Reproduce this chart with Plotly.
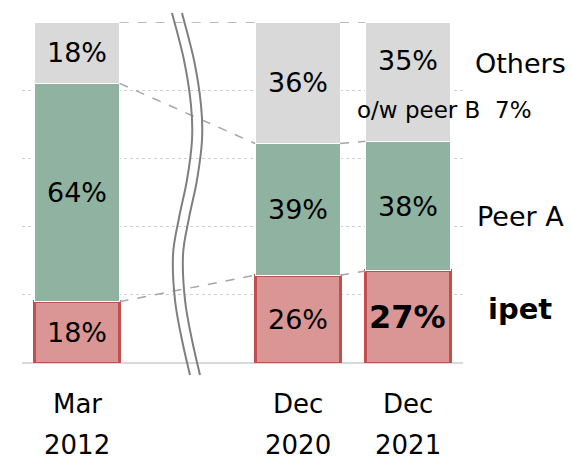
import plotly.graph_objects as go

# ---------------- data ----------------
period_line1 = ["Mar", "Dec", "Dec"]
period_line2 = ["2012", "2020", "2021"]
x_pos = [0, 2, 3]            # gap after first bar (axis break)
ipet = [18, 26, 27]
peer_a = [64, 39, 38]
others = [18, 36, 35]
peer_b_share = 7
series_names = ["ipet", "Peer A", "Others"]

# ---------------- style ----------------
FONT = "DejaVu Sans"
C_RED = "#DA9694"
C_RED_EDGE = "#C0504D"
C_GREEN = "#8FB3A0"
C_GRAY = "#D9D9D9"
C_CONN = "#A6A6A6"
C_BREAK = "#7F7F7F"
BAR_W = 0.77

W, H = 572, 460
ML, MR, MT, MB = 22, 109, 22, 97
PW, PH = W - ML - MR, H - MT - MB

fig = go.Figure()
fig.add_trace(go.Bar(x=x_pos, y=ipet, name=series_names[0], width=BAR_W,
                     marker=dict(color=C_RED, line=dict(color=C_RED_EDGE, width=3))))
fig.add_trace(go.Bar(x=x_pos, y=peer_a, name=series_names[1], width=BAR_W,
                     marker=dict(color=C_GREEN, line=dict(color="white", width=1))))
fig.add_trace(go.Bar(x=x_pos, y=others, name=series_names[2], width=BAR_W,
                     marker=dict(color=C_GRAY, line=dict(color="white", width=1))))

# normalized cumulative levels
totals = [a + b + c for a, b, c in zip(ipet, peer_a, others)]
lvl1 = [a / t * 100 for a, t in zip(ipet, totals)]
lvl2 = [(a + b) / t * 100 for a, b, t in zip(ipet, peer_a, totals)]
lvl3 = [100.0 for _ in totals]

# dashed connectors between neighbouring bars
for lv in (lvl1, lvl2, lvl3):
    for i in range(len(x_pos) - 1):
        fig.add_trace(go.Scatter(
            x=[x_pos[i] + BAR_W / 2, x_pos[i + 1] - BAR_W / 2],
            y=[lv[i], lv[i + 1]], mode="lines",
            line=dict(color=C_CONN, width=1.5, dash="dash"),
            hoverinfo="skip", showlegend=False))

# segment labels
for i, xp in enumerate(x_pos):
    mids = [lvl1[i] / 2, (lvl1[i] + lvl2[i]) / 2, (lvl2[i] + 100) / 2]
    vals = [ipet[i], peer_a[i], others[i]]
    for k, (m, v) in enumerate(zip(mids, vals)):
        bold = (k == 0 and i == len(x_pos) - 1)
        ysh = 21 if (k == 2 and i == len(x_pos) - 1) else 0
        fig.add_annotation(x=xp, y=m, text=(f"<b>{v}%</b>" if bold else f"{v}%"),
                           showarrow=False, yshift=ysh,
                           font=dict(family=FONT, size=(32 if bold else 27), color="black"))

# "of which" note
fig.add_annotation(x=x_pos[-1], y=(lvl2[-1] + 100) / 2, xref="x", yref="y",
                   text=f"o/w peer B\u00a0\u00a0{peer_b_share}%", showarrow=False,
                   xshift=37, yshift=-28,
                   font=dict(family=FONT, size=23, color="black"))

# series labels at right
def px2paper(px, py):
    return (px - ML) / PW, (MT + PH - py) / PH

for name, py, bold in [("Others", 63, False), ("Peer A", 217, False), ("ipet", 309, True)]:
    xp, yp = px2paper(520, py)
    fig.add_annotation(x=xp, y=yp, xref="paper", yref="paper",
                       text=(f"<b>{name}</b>" if bold else name), showarrow=False,
                       xanchor="center", yanchor="middle",
                       font=dict(family=FONT, size=(29 if bold else 27), color="black"))

# category labels (two lines each)
for xp, l1, l2 in zip(x_pos, period_line1, period_line2):
    for txt, py in ((l1, 404), (l2, 445)):
        _, yp = px2paper(0, py)
        fig.add_annotation(x=xp, y=yp, xref="x", yref="paper", text=txt,
                           showarrow=False, yanchor="middle",
                           font=dict(family=FONT, size=26, color="black"))

# axis break symbol (two wavy lines)
def wave_path(dx):
    pts = [(172, 13), (184, 60), (191, 105), (192, 140), (187, 180), (179, 218),
           (173, 255), (175, 300), (182, 340), (190, 375)]
    pts = [(x + dx, y) for x, y in pts]
    pp = [px2paper(x, y) for x, y in pts]
    d = f"M {pp[0][0]:.4f},{pp[0][1]:.4f}"
    for j in range(len(pp) - 1):
        p0 = pp[j - 1] if j > 0 else pp[j]
        p1, p2 = pp[j], pp[j + 1]
        p3 = pp[j + 2] if j + 2 < len(pp) else pp[j + 1]
        c1 = (p1[0] + (p2[0] - p0[0]) / 6, p1[1] + (p2[1] - p0[1]) / 6)
        c2 = (p2[0] - (p3[0] - p1[0]) / 6, p2[1] - (p3[1] - p1[1]) / 6)
        d += f" C {c1[0]:.4f},{c1[1]:.4f} {c2[0]:.4f},{c2[1]:.4f} {p2[0]:.4f},{p2[1]:.4f}"
    return d

for dx in (0, 10):
    fig.add_shape(type="path", path=wave_path(dx), xref="paper", yref="paper",
                  line=dict(color=C_BREAK, width=2), layer="above")

fig.update_layout(
    width=W, height=H, barmode="stack", barnorm="percent",
    margin=dict(l=ML, r=MR, t=MT, b=MB),
    paper_bgcolor="white", plot_bgcolor="white", showlegend=False,
    font=dict(family=FONT, color="black"),
    xaxis=dict(range=[-0.5, 3.5], showticklabels=False, showgrid=False,
               zeroline=False, ticks=""),
    yaxis=dict(range=[0, 100], showticklabels=False, tick0=0, dtick=20,
               showgrid=True, gridcolor="#D0D0D0", griddash="dot", gridwidth=1,
               zeroline=True, zerolinecolor="#D9D9D9", zerolinewidth=2, ticks=""),
)

fig.write_html("out.html", config={"displayModeBar": False},
               post_script="document.body.style.margin='0';document.body.style.overflow='hidden';")
